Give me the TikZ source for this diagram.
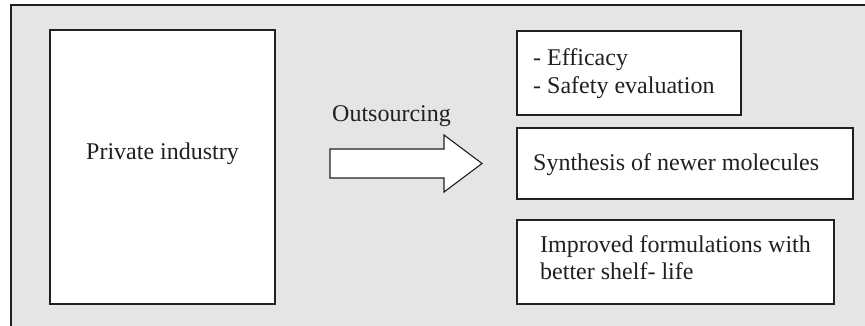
\documentclass[tikz,border=0pt]{standalone}
\usepackage{fontspec}
\setmainfont{Liberation Serif}
\definecolor{bggray}{RGB}{228,229,231}
\definecolor{ink}{RGB}{35,31,32}
\begin{document}
\begin{tikzpicture}[x=1pt,y=-1pt,
  box/.style={draw=ink, line width=1.1pt, fill=white, inner sep=0pt},
  txt/.style={anchor=base west, inner sep=0pt, text=ink, font=\fontsize{24}{28}\selectfont}]
\useasboundingbox (0,0) rectangle (865,326);
\fill[white] (0,0) rectangle (865,326);
\fill[bggray] (11,5) rectangle (866,327);
\draw[ink, line width=1.2pt] (11,327) -- (11,5) -- (866,5);
% left box
\node[box, minimum width=225pt, minimum height=274pt] (pi) at (162.5,167) {};
\node[txt, anchor=base] (pit) at (162.5,160) {Private industry};
% right boxes
\node[box, minimum width=224pt, minimum height=84pt] (b1) at (629,73) {};
\node[txt] (b1a) at (533,66) {- Efficacy};
\node[txt] (b1b) at (533,94) {- Safety evaluation};
\node[box, minimum width=336pt, minimum height=71pt] (b2) at (685,163.5) {};
\node[txt] (b2a) at (533,171) {Synthesis of newer molecules};
\node[box, minimum width=317pt, minimum height=84pt] (b3) at (675.5,262) {};
\node[txt] (b3a) at (540,252) {Improved formulations with};
\node[txt] (b3b) at (540,279) {better shelf- life};
% arrow
\node[txt] (out) at (332,122) {Outsourcing};
\draw[ink, line width=1.1pt, fill=white, line join=miter]
  (330,149) -- (444,149) -- (444,135) -- (482,163.5) -- (444,192) -- (444,178) -- (330,178) -- cycle;
\end{tikzpicture}
\end{document}
